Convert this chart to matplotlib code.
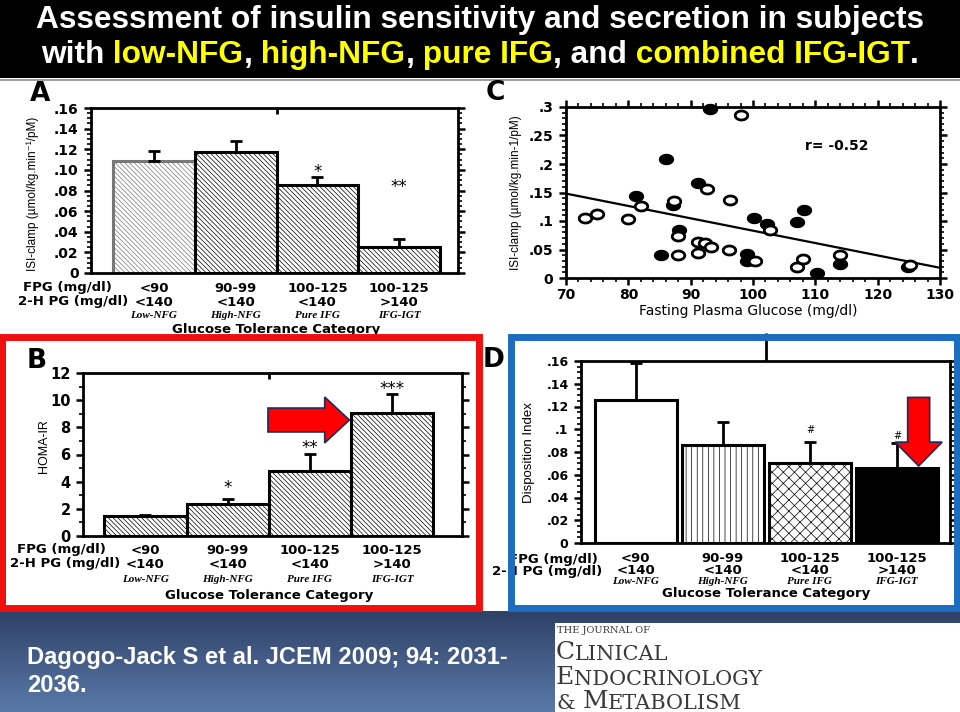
import numpy as np
import matplotlib.pyplot as plt
from matplotlib import transforms, font_manager
from matplotlib.colors import LinearSegmentedColormap
from matplotlib.patches import Rectangle, FancyArrow
from matplotlib.path import Path
from matplotlib.ticker import MultipleLocator, FuncFormatter

W, H = 960, 712
_have = {f.name for f in font_manager.fontManager.ttflist}
NARROW = [f for f in ['Liberation Sans Narrow', 'Liberation Sans'] if f in _have]
NARROW += ['DejaVu Sans']
SANS = ['DejaVu Sans']
SERIF_IT = ['Liberation Serif', 'DejaVu Serif']

plt.rcParams['font.family'] = SANS
plt.rcParams['font.weight'] = 'bold'
plt.rcParams['hatch.linewidth'] = 0.5

# ---- values ----
fpg_rows = ['<90', '90-99', '100-125', '100-125']
pg2h_rows = ['<140', '<140', '<140', '>140']
groups = ['Low-NFG', 'High-NFG', 'Pure IFG', 'IFG-IGT']

isi_clamp = [0.109, 0.117, 0.085, 0.025]
isi_clamp_err = [0.009, 0.011, 0.008, 0.008]
isi_clamp_sig = ['', '', '*', '**']

homa_ir = [1.45, 2.33, 4.78, 9.05]
homa_ir_err = [0.10, 0.37, 1.28, 1.37]
homa_ir_sig = ['', '*', '**', '***']

disp_index = [0.126, 0.086, 0.070, 0.066]
disp_index_err = [0.032, 0.020, 0.019, 0.022]
disp_index_sig = ['', '', '#', '#']

# panel C, open and filled subjects
fpg_open = [73, 75, 80, 82.1, 87.4, 87.9, 88, 91.1, 91.1, 92.3, 93.2, 92.7,
            96.1, 96.3, 98.1, 100.3, 102.7, 107, 108.1, 114, 125.2]
isi_open = [0.105, 0.112, 0.103, 0.127, 0.135, 0.074, 0.040, 0.043, 0.064,
            0.062, 0.055, 0.156, 0.049, 0.137, 0.286, 0.029, 0.084, 0.020,
            0.033, 0.040, 0.023]
fpg_filled = [93.1, 86.1, 81.2, 87.2, 88.2, 91.2, 85.3, 99.1, 99.1, 100.1,
              102.2, 107.1, 108.2, 110.2, 114, 124.9]
isi_filled = [0.296, 0.208, 0.143, 0.128, 0.084, 0.166, 0.040, 0.042, 0.029,
              0.106, 0.094, 0.098, 0.119, 0.009, 0.024, 0.019]
fit_slope, fit_intercept = -0.00217, 0.300
r_text = 'r= -0.52'

x = np.arange(1, 5)

fig = plt.figure(figsize=(9.6, 7.12), dpi=100)
fig.patch.set_facecolor('white')

# overlay in pixel coordinates (title, footer, boxes)
ov = fig.add_axes([0, 0, 1, 1], zorder=10)
ov.axis('off')


def px_axes(l, t, r, b):
    return fig.add_axes([l / W, 1 - b / H, (r - l) / W, (b - t) / H])


def frac_fmt(dec):
    def f(v, pos):
        if abs(v) < 1e-9:
            return '0'
        s = f'{v:.{dec}f}' if dec else f'{v:g}'
        return s.lstrip('0')
    return FuncFormatter(f)


def frame(ax, lw=2.0, fs=10):
    for s in ax.spines.values():
        s.set_linewidth(lw)
    ax.tick_params(axis='y', which='both', direction='out', left=True,
                   right=True, labelsize=fs, pad=4)
    ax.tick_params(axis='y', which='major', length=5, width=1.8)
    ax.tick_params(axis='y', which='minor', length=3, width=1.2)


def bars(ax, vals, errs, faces, hatches, edges, width=1.0):
    bs = ax.bar(x, vals, width=width, color=faces, edgecolor=edges,
                linewidth=2.2, zorder=2)
    for b, h in zip(bs, hatches):
        b.set_hatch(h)
    ax.errorbar(x, vals, yerr=[np.zeros(4), errs], fmt='none', ecolor='black',
                elinewidth=2, capsize=4, capthick=2, zorder=3)


def category_rows(ax, ys, lx, fs=9.5):
    tr = transforms.blended_transform_factory(ax.transData, ov.transData)
    for xi, a, b, g in zip(x, fpg_rows, pg2h_rows, groups):
        ax.text(xi, ys[0], a, transform=tr, ha='center', va='center',
                fontsize=fs, clip_on=False)
        ax.text(xi, ys[1], b, transform=tr, ha='center', va='center',
                fontsize=fs, clip_on=False)
        ax.text(xi, ys[2], g, transform=tr, ha='center', va='center',
                fontsize=fs - 1.5, style='italic', family=SERIF_IT,
                clip_on=False)
    ax.text(2.5, ys[3], 'Glucose Tolerance Category', transform=tr,
            ha='center', va='center', fontsize=fs, clip_on=False)
    ax.text(lx[0], ys[0], 'FPG (mg/dl)', transform=ov.transData, ha='right',
            va='center', fontsize=fs, clip_on=False)
    ax.text(lx[1], ys[1], '2-H PG (mg/dl)', transform=ov.transData, ha='right',
            va='center', fontsize=fs, clip_on=False)


def sig_marks(ax, ys, marks, fs=12):
    for xi, yv, m in zip(x, ys, marks):
        if m:
            ax.text(xi, yv, m, ha='center', va='center', fontsize=fs,
                    fontweight='normal')


HATCH = '\\' * 7

# ---------- A: ISI-clamp bars ----------
axA = px_axes(91, 108, 458, 273)
bars(axA, isi_clamp, isi_clamp_err, ['white'] * 4, [HATCH] * 4,
     ['#777777', 'black', 'black', 'black'])
axA.set_xlim(0.23, 4.72)
axA.set_ylim(0, 0.16)
frame(axA)
axA.yaxis.set_major_locator(MultipleLocator(0.02))
axA.yaxis.set_minor_locator(MultipleLocator(0.005))
axA.yaxis.set_major_formatter(frac_fmt(2))
axA.set_xticks([2.5])
axA.tick_params(axis='x', bottom=False, top=True, labelbottom=False,
                direction='in', length=4, width=2)
axA.set_ylabel('ISI-clamp (µmol/kg.min⁻¹/pM)', fontsize=8.5,
               fontweight='normal', family=NARROW)
axA.yaxis.set_label_coords(-0.143, 0.48)
sig_marks(axA, [0, 0, 0.098, 0.083], isi_clamp_sig)
category_rows(axA, [288, 302, 315, 329], [112, 128])

# ---------- C: scatter ----------
axC = px_axes(566, 107, 940, 278)
th = np.linspace(0, 2 * np.pi, 60)
ellipse = Path(np.column_stack([np.cos(th), 0.72 * np.sin(th)]), closed=True)
line_x = np.array([70, 130])
axC.plot(line_x, fit_intercept + fit_slope * line_x, color='black', lw=1.6,
         zorder=2)
axC.plot(fpg_filled, isi_filled, ls='none', marker=ellipse, ms=10,
         mfc='black', mec='black', zorder=3, clip_on=False)
axC.plot(fpg_open, isi_open, ls='none', marker=ellipse, ms=9, mfc='white',
         mec='black', mew=2.0, zorder=4, clip_on=False)
axC.set_xlim(70, 130)
axC.set_ylim(0, 0.3)
frame(axC)
axC.yaxis.set_major_locator(MultipleLocator(0.05))
axC.yaxis.set_minor_locator(MultipleLocator(0.01))
axC.yaxis.set_major_formatter(frac_fmt(0))
axC.xaxis.set_major_locator(MultipleLocator(10))
axC.xaxis.set_minor_locator(MultipleLocator(2))
axC.tick_params(axis='x', which='both', direction='out', bottom=True, top=True,
                labelsize=10, pad=2)
axC.tick_params(axis='x', which='major', length=5, width=1.8)
axC.tick_params(axis='x', which='minor', length=3, width=1.2)
axC.text(108.3, 0.232, r_text, fontsize=10, va='center')
axC.set_ylabel('ISI-clamp (µmol/kg.min-1/pM)', fontsize=8.5,
               fontweight='normal', family=NARROW)
axC.yaxis.set_label_coords(-0.118, 0.5)
axC.set_xlabel('Fasting Plasma Glucose (mg/dl)', fontsize=10)
axC.xaxis.set_label_coords(0.487, -0.15)

# ---------- B: HOMA-IR bars ----------
axB = px_axes(83, 373, 462, 536)
bars(axB, homa_ir, homa_ir_err, ['white'] * 4, [HATCH] * 4, ['black'] * 4)
axB.set_xlim(0.24, 4.85)
axB.set_ylim(0, 12)
frame(axB, fs=10.5)
axB.yaxis.set_major_locator(MultipleLocator(2))
axB.yaxis.set_minor_locator(MultipleLocator(1))
axB.set_xticks([2.5])
axB.tick_params(axis='x', bottom=False, top=True, labelbottom=False,
                direction='in', length=4, width=2)
axB.set_ylabel('HOMA-IR', fontsize=9, family=NARROW)
axB.yaxis.set_label_coords(-0.087, 0.55)
sig_marks(axB, [0, 3.5, 6.5, 10.8], homa_ir_sig)
category_rows(axB, [550, 564, 579, 595], [106, 120])
axB.add_patch(FancyArrow(2.49, 8.54, 0.99, 0, width=1.76, head_width=3.38,
                         head_length=0.30, length_includes_head=True,
                         fc='#ff0000', ec='#1c2b5e', lw=1.2, zorder=6,
                         clip_on=False))

# ---------- D: disposition index ----------
axD = px_axes(581, 361, 950, 543)
bars(axD, disp_index, disp_index_err, ['white', 'white', 'white', 'black'],
     ['', '|||', 'xxx', ''], ['black'] * 4, width=0.94)
axD.set_xlim(0.37, 4.61)
axD.set_ylim(0, 0.16)
frame(axD, fs=9)
axD.yaxis.set_major_locator(MultipleLocator(0.02))
axD.yaxis.set_minor_locator(MultipleLocator(0.005))
axD.yaxis.set_major_formatter(frac_fmt(0))
axD.set_xticks([2.5])
axD.tick_params(axis='x', bottom=False, top=True, labelbottom=False,
                direction='out', length=20, width=2)
axD.set_ylabel('Disposition Index', fontsize=9.5, fontweight='normal',
               family=NARROW)
axD.yaxis.set_label_coords(-0.125, 0.495)
sig_marks(axD, [0, 0, 0.099, 0.094], disp_index_sig, fs=7)
category_rows(axD, [559, 571, 582, 594], [598, 602])
axD.add_patch(FancyArrow(4.25, 0.128, 0, -0.0603, width=0.253, head_width=0.54,
                         head_length=0.021, length_includes_head=True,
                         fc='#ff0000', ec='#1c2b5e', lw=1.2, zorder=6,
                         clip_on=False))

# ---------- slide furniture ----------
grad = LinearSegmentedColormap.from_list('foot', ['#2f4268', '#5a79a8'])
ov.imshow(np.linspace(0, 1, 64)[:, None], extent=(0, W, 712, 611), cmap=grad,
          aspect='auto', zorder=0)
ov.add_patch(Rectangle((0, 0), W, 78, fc='black', zorder=0.5))
ov.plot([0, W], [79.5, 79.5], color='#8c8c8c', lw=1.2, zorder=0.6)

for lab, (lx, ly) in zip('ACBD', [(30, 101), (486, 100), (27, 368), (483, 367)]):
    ov.text(lx, ly, lab, fontsize=19, va='baseline', ha='left', zorder=2)

ov.add_patch(Rectangle((1.5, 336.5), 477.5, 271.5, fill=False, ec='#f01010',
                       lw=5, zorder=5, clip_on=False))
ov.add_patch(Rectangle((510.5, 336.5), 446.5, 271.5, fill=False, ec='#1c6cc0',
                       lw=5, zorder=5, clip_on=False))


def chain(x0, y0, pieces, **kw):
    s, props = pieces[0]
    t = ov.text(x0, y0, s, va='baseline', ha='left', **kw, **props)
    out = [t]
    for s, props in pieces[1:]:
        t = ov.annotate(s, xy=(1, 0), xycoords=t, va='bottom', ha='left',
                        **kw, **props)
        out.append(t)
    return out


title1 = ov.text(480, 28, 'Assessment of insulin sensitivity and secretion in subjects',
                 color='white', fontsize=24, family=NARROW, ha='center',
                 va='baseline')
Y = '#ffff00'
line2 = chain(40, 63, [('with', {'color': 'white'}), (' low-NFG', {'color': Y}),
                       (',', {'color': 'white'}), (' high-NFG', {'color': Y}),
                       (',', {'color': 'white'}), (' pure IFG', {'color': Y}),
                       (', and', {'color': 'white'}),
                       (' combined IFG-IGT', {'color': Y}),
                       ('.', {'color': 'white'})],
              fontsize=24, family=NARROW)

foot1 = ov.text(27, 664, 'Dagogo-Jack S et al. JCEM 2009; 94: 2031-',
                color='white', fontsize=17, family=NARROW, va='baseline')
foot2 = ov.text(27, 692, '2036.', color='white', fontsize=17, family=NARROW,
                va='baseline')

# journal logo
ov.add_patch(Rectangle((555, 623), W - 555, H - 623, fc='white', ec='none',
                       zorder=1))
LOGO = dict(family=['DejaVu Serif'], fontweight='normal', color='#3a3a3a')
ov.text(557, 633, 'THE JOURNAL OF', fontsize=7, va='baseline', **LOGO)
chain(556, 659, [('C', {'fontsize': 18}), ('LINICAL', {'fontsize': 15})],
      **LOGO)
chain(556, 684, [('E', {'fontsize': 18}), ('NDOCRINOLOGY', {'fontsize': 15})],
      **LOGO)
chain(556, 709, [('&', {'fontsize': 15}), (' M', {'fontsize': 18}),
                 ('ETABOLISM', {'fontsize': 15})], **LOGO)

ov.set_xlim(0, W)
ov.set_ylim(H, 0)

# fit title / footer widths to the slide
fig.canvas.draw()
w1 = title1.get_window_extent().width
fs = title1.get_fontsize() * 892 / w1
title1.set_fontsize(fs)
for t in line2:
    t.set_fontsize(fs)
wf = foot1.get_window_extent().width
ff = foot1.get_fontsize() * 483 / wf
foot1.set_fontsize(ff)
foot2.set_fontsize(ff)
fig.canvas.draw()
b0 = line2[0].get_window_extent()
b1 = line2[-1].get_window_extent()
line2[0].set_x(480 - (b1.x1 - b0.x0) / 2)

fig.savefig('out.png', dpi=100)
